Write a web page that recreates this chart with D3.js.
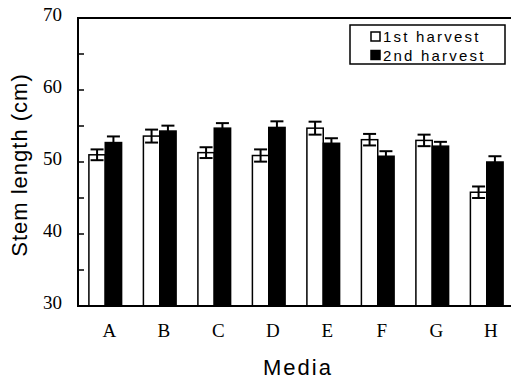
<!DOCTYPE html>
<html>
<head>
<meta charset="utf-8">
<script src="https://cdn.jsdelivr.net/npm/d3@7"></script>
<style>
  body { margin: 0; background: #fff; }
  svg { display: block; }
</style>
</head>
<body>
<div id="chart"></div>
<script>
var media = ["A", "B", "C", "D", "E", "F", "G", "H"];
var seriesNames = ["1st harvest", "2nd harvest"];
var firstHarvest = [51.0, 53.6, 51.3, 50.9, 54.7, 53.1, 53.0, 45.8];
var firstErr = [0.75, 0.9, 0.75, 0.85, 0.9, 0.8, 0.8, 0.8];
var secondHarvest = [52.7, 54.3, 54.7, 54.8, 52.6, 50.8, 52.2, 50.0];
var secondErr = [0.85, 0.75, 0.7, 0.85, 0.7, 0.7, 0.6, 0.8];
var yTicks = [30, 40, 50, 60, 70];
var yMinorTicks = [35, 45, 55, 65];

var width = 511,
    height = 385,
    plotLeft = 78,
    plotTop = 18,
    plotBottom = 306,
    colors = ["#fff", "#000"];

var rows = [];
media.forEach(function(m, i) {
  rows.push({media: m, series: 0, value: firstHarvest[i], err: firstErr[i]});
  rows.push({media: m, series: 1, value: secondHarvest[i], err: secondErr[i]});
});

var svg = d3.select("#chart")
    .append("svg")
    .attr("width", width)
    .attr("height", height);

var x0 = d3.scaleBand()
    .domain(media)
    .range([plotLeft, plotLeft + 436])
    .paddingInner(0.4)
    .paddingOuter(0.2);

var x1 = d3.scaleBand()
    .domain([0, 1])
    .range([0, x0.bandwidth()]);

var y = d3.scaleLinear()
    .domain([30, 70])
    .range([plotBottom, plotTop]);

// bars
svg.append("g")
    .selectAll("rect")
    .data(rows)
    .enter()
    .append("rect")
    .attr("x", function(d) { return x0(d.media) + x1(d.series); })
    .attr("y", function(d) { return y(d.value); })
    .attr("width", x1.bandwidth())
    .attr("height", function(d) { return y(30) - y(d.value); })
    .attr("fill", function(d) { return colors[d.series]; })
    .attr("stroke", "#000")
    .attr("stroke-width", 1.5);

// error bars
function cx(d) { return x0(d.media) + x1(d.series) + x1.bandwidth() / 2; }

var eb = svg.append("g")
    .selectAll("g")
    .data(rows)
    .enter()
    .append("g")
    .attr("stroke", "#000")
    .attr("stroke-width", 2);

eb.append("line")
    .attr("x1", cx).attr("x2", cx)
    .attr("y1", function(d) { return y(d.value + d.err); })
    .attr("y2", function(d) { return d.series ? y(d.value) : y(d.value - d.err); });
eb.append("line")
    .attr("x1", function(d) { return cx(d) - 6.5; })
    .attr("x2", function(d) { return cx(d) + 6.5; })
    .attr("y1", function(d) { return y(d.value + d.err); })
    .attr("y2", function(d) { return y(d.value + d.err); });
eb.filter(function(d) { return d.series === 0; })
    .append("line")
    .attr("x1", function(d) { return cx(d) - 6.5; })
    .attr("x2", function(d) { return cx(d) + 6.5; })
    .attr("y1", function(d) { return y(d.value - d.err); })
    .attr("y2", function(d) { return y(d.value - d.err); });

// frame (no right border)
svg.append("path")
    .attr("d", "M" + width + "," + plotTop + "H" + plotLeft + "V" + plotBottom + "H" + width)
    .attr("fill", "none")
    .attr("stroke", "#000")
    .attr("stroke-width", 2);

// y ticks, pointing inward
svg.append("g")
    .selectAll("line")
    .data(yTicks.concat(yMinorTicks))
    .enter()
    .append("line")
    .attr("x1", plotLeft)
    .attr("x2", plotLeft + 6)
    .attr("y1", function(d) { return y(d); })
    .attr("y2", function(d) { return y(d); })
    .attr("stroke", "#000")
    .attr("stroke-width", 1.5);

svg.append("g")
    .selectAll("text")
    .data(yTicks)
    .enter()
    .append("text")
    .attr("x", plotLeft - 16)
    .attr("y", function(d) { return y(d) + 3; })
    .attr("text-anchor", "end")
    .style("font-family", "'Liberation Serif', 'Times New Roman', serif")
    .style("font-size", "19px")
    .text(function(d) { return d; });

svg.append("g")
    .selectAll("text")
    .data(media)
    .enter()
    .append("text")
    .attr("x", function(d) { return x0(d) + x0.bandwidth() / 2 + 4; })
    .attr("y", 337)
    .attr("text-anchor", "middle")
    .style("font-family", "'Liberation Serif', 'Times New Roman', serif")
    .style("font-size", "19px")
    .text(function(d) { return d; });

// axis titles
svg.append("text")
    .attr("transform", "translate(27,165) rotate(-90)")
    .attr("text-anchor", "middle")
    .style("font-family", "'Liberation Sans', Arial, sans-serif")
    .style("font-size", "22px")
    .style("letter-spacing", "1px")
    .text("Stem length (cm)");

svg.append("text")
    .attr("x", 298)
    .attr("y", 375)
    .attr("text-anchor", "middle")
    .style("font-family", "'Liberation Sans', Arial, sans-serif")
    .style("font-size", "22px")
    .style("letter-spacing", "2px")
    .text("Media");

// legend
var legend = svg.append("g");
legend.append("rect")
    .attr("x", 350)
    .attr("y", 25)
    .attr("width", 155)
    .attr("height", 39)
    .attr("fill", "#fff")
    .attr("stroke", "#000")
    .attr("stroke-width", 1.5);

var li = legend.selectAll("g")
    .data(seriesNames)
    .enter()
    .append("g")
    .attr("transform", function(d, i) { return "translate(371," + (32 + i * 18.5) + ")"; });
li.append("rect")
    .attr("width", 9)
    .attr("height", 9)
    .attr("fill", function(d, i) { return colors[i]; })
    .attr("stroke", "#000")
    .attr("stroke-width", 1.5);
li.append("text")
    .attr("x", 12)
    .attr("y", 10)
    .style("font-family", "'Liberation Sans', Arial, sans-serif")
    .style("font-size", "15px")
    .style("letter-spacing", "2.2px")
    .text(function(d) { return d; });
</script>
</body>
</html>
